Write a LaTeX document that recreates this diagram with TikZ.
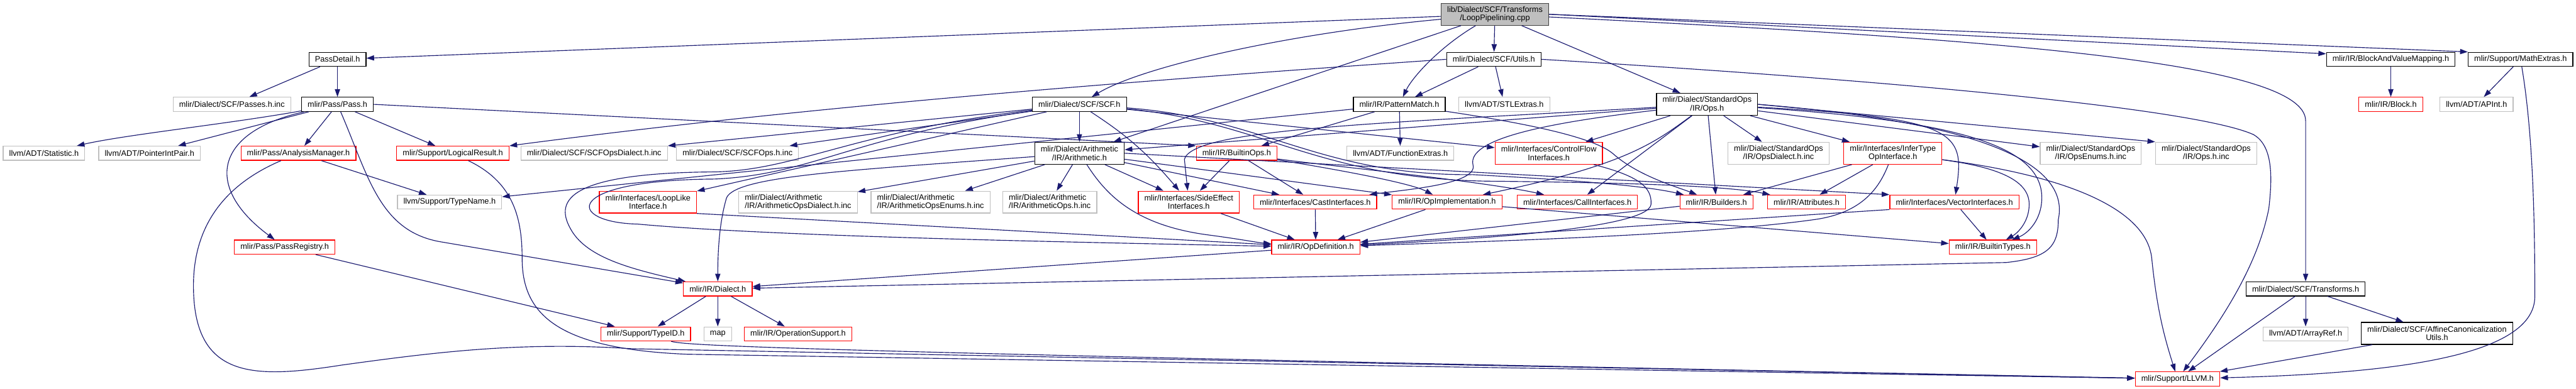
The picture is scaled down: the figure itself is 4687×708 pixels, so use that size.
\documentclass[tikz,border=0pt]{standalone}
\usepackage{fontspec}
\setmainfont{Liberation Sans}
\usetikzlibrary{arrows.meta}
\definecolor{edgeblue}{HTML}{191970}
\definecolor{extgray}{HTML}{BFBFBF}
\definecolor{rootline}{HTML}{404040}
\definecolor{truncred}{HTML}{FF0000}

\begin{document}
\begin{tikzpicture}[
  x=0.02cm, y=-0.02cm,
  box/.style={draw=black,line width=0.8pt,inner xsep=0.22cm,inner ysep=0.08cm,minimum height=0.514cm,align=center,font=\fontsize{8.3}{8.8}\selectfont},
  rootbox/.style={box,draw=rootline,fill=extgray},
  redbox/.style={box,draw=truncred},
  graybox/.style={box,draw=extgray},
  tall/.style={minimum height=0.8cm},
  arr/.style={-{Triangle[length=0.28cm,width=0.19cm]},line width=0.75pt,color=edgeblue}
]
\useasboundingbox (0,0) rectangle (4687,708);

\node[rootbox,tall] (root) at (2720,26) {lib/Dialect/SCF/Transforms\\/LoopPipelining.cpp};
\node[box] (passdetail) at (614,108) {PassDetail.h};
\node[graybox] (passes) at (422,190) {mlir/Dialect/SCF/Passes.h.inc};
\node[box] (pass) at (614,190) {mlir/Pass/Pass.h};
\node[graybox] (statistic) at (80,279) {llvm/ADT/Statistic.h};
\node[graybox] (ptrpair) at (272,279) {llvm/ADT/PointerIntPair.h};
\node[redbox] (analysis) at (543,279) {mlir/Pass/AnalysisManager.h};
\node[redbox] (logical) at (824,279) {mlir/Support/LogicalResult.h};
\node[redbox] (passreg) at (518,450) {mlir/Pass/PassRegistry.h};
\node[graybox] (typename) at (818,368) {llvm/Support/TypeName.h};
\node[graybox] (scfdialinc) at (1081,279) {mlir/Dialect/SCF/SCFOpsDialect.h.inc};
\node[graybox] (scfopsinc) at (1342,279) {mlir/Dialect/SCF/SCFOps.h.inc};
\node[redbox,tall] (looplike) at (1179,368) {mlir/Interfaces/LoopLike\\Interface.h};
\node[graybox,tall,align=left] (aridialinc) at (1452,368) {mlir/Dialect/Arithmetic\\/IR/ArithmeticOpsDialect.h.inc};
\node[redbox] (dialect) at (1306,526) {mlir/IR/Dialect.h};
\node[redbox] (typeid) at (1175,608) {mlir/Support/TypeID.h};
\node[graybox] (stdmap) at (1306,608) {map};
\node[redbox] (opsupport) at (1452,608) {mlir/IR/OperationSupport.h};
\node[box] (scf) at (1964,190) {mlir/Dialect/SCF/SCF.h};
\node[box,tall] (arith) at (1964,279) {mlir/Dialect/Arithmetic\\/IR/Arithmetic.h};
\node[redbox] (builtinops) at (2250,279) {mlir/IR/BuiltinOps.h};
\node[graybox,tall,align=left] (arienuminc) at (1693,368) {mlir/Dialect/Arithmetic\\/IR/ArithmeticOpsEnums.h.inc};
\node[graybox,tall,align=left] (ariopsinc) at (1910,368) {mlir/Dialect/Arithmetic\\/IR/ArithmeticOps.h.inc};
\node[redbox,tall] (sideeffect) at (2163,368) {mlir/Interfaces/SideEffect\\Interfaces.h};
\node[redbox] (castif) at (2393,368) {mlir/Interfaces/CastInterfaces.h};
\node[redbox] (opdef) at (2394,450) {mlir/IR/OpDefinition.h};
\node[redbox] (opimpl) at (2633,368) {mlir/IR/OpImplementation.h};
\node[redbox] (callif) at (2870,368) {mlir/Interfaces/CallInterfaces.h};
\node[redbox] (builders) at (3123,368) {mlir/IR/Builders.h};
\node[box] (utils) at (2718,108) {mlir/Dialect/SCF/Utils.h};
\node[box] (pattern) at (2546,190) {mlir/IR/PatternMatch.h};
\node[graybox] (stlextras) at (2737,190) {llvm/ADT/STLExtras.h};
\node[box,tall] (stdops) at (3106,190) {mlir/Dialect/StandardOps\\/IR/Ops.h};
\node[graybox] (funcextras) at (2548,279) {llvm/ADT/FunctionExtras.h};
\node[redbox,tall] (ctrlflow) at (2818,279) {mlir/Interfaces/ControlFlow\\Interfaces.h};
\node[graybox,tall] (stddialinc) at (3236,279) {mlir/Dialect/StandardOps\\/IR/OpsDialect.h.inc};
\node[redbox,tall] (infertype) at (3444,279) {mlir/Interfaces/InferType\\OpInterface.h};
\node[graybox,tall] (stdenuminc) at (3804,279) {mlir/Dialect/StandardOps\\/IR/OpsEnums.h.inc};
\node[graybox,tall] (stdopsinc) at (4014,279) {mlir/Dialect/StandardOps\\/IR/Ops.h.inc};
\node[redbox] (attributes) at (3287,368) {mlir/IR/Attributes.h};
\node[redbox] (vectorif) at (3556,368) {mlir/Interfaces/VectorInterfaces.h};
\node[redbox] (builtintypes) at (3626,450) {mlir/IR/BuiltinTypes.h};
\node[redbox] (llvm) at (3962,690) {mlir/Support/LLVM.h};
\node[box] (bvm) at (4350,108) {mlir/IR/BlockAndValueMapping.h};
\node[box] (mathextras) at (4586,108) {mlir/Support/MathExtras.h};
\node[redbox] (block) at (4350,190) {mlir/IR/Block.h};
\node[graybox] (apint) at (4506,190) {llvm/ADT/APInt.h};
\node[box] (transforms) at (4195,526) {mlir/Dialect/SCF/Transforms.h};
\node[graybox] (arrayref) at (4195,608) {llvm/ADT/ArrayRef.h};
\node[box,tall] (affine) at (4434,607) {mlir/Dialect/SCF/AffineCanonicalization\\Utils.h};

\draw[arr] (root) -- (passdetail);
\draw[arr] (root) .. controls (2350,60) and (2080,120) .. (scf);
\draw[arr] (root) -- (utils);
\draw[arr] (root) .. controls (2620,85) and (2570,140) .. (pattern);
\draw[arr] (root) -- (stdops);
\draw[arr] (root) -- (arith);
\draw[arr] (root.east) -- ([yshift=-2pt]bvm.north west);
\draw[arr] (root.east) -- (mathextras.north west);
\draw[arr] (root) .. controls (3600,70) and (4195,110) .. (4195,220) -- (transforms);

\draw[arr] (passdetail) -- (passes);
\draw[arr] (passdetail) -- (pass);

\draw[arr] (pass) .. controls (420,225) and (230,245) .. (statistic);
\draw[arr] (pass) -- (ptrpair);
\draw[arr] (pass) -- (analysis);
\draw[arr] (pass) .. controls (390,240) and (370,340) .. (passreg);
\draw[arr] (pass) .. controls (670,320) and (690,420) .. (800,440) -- (dialect);
\draw[arr] (pass) -- (logical);
\draw[arr] (pass.east) -- (builtinops.north west);

\draw[arr] (analysis) -- (typename);
\draw[arr] (analysis) .. controls (400,340) and (352,420) .. (352,520) .. controls (352,690) and (460,690) .. (620,665) .. controls (800,640) and (950,622) .. (1150,635) -- (llvm);
\draw[arr] (passreg) -- (typeid);
\draw[arr] (logical) .. controls (930,330) and (950,390) .. (950,470) .. controls (950,570) and (1010,635) .. (1250,645) -- (llvm);
\draw[arr] (typeid) .. controls (1250,630) and (1450,640) .. (llvm);

\draw[arr] (dialect) -- (typeid);
\draw[arr] (dialect) -- (stdmap);
\draw[arr] (dialect) -- (opsupport);

\draw[arr] (utils) -- (pattern);
\draw[arr] (utils) -- (stlextras);
\draw[arr] (utils.west) .. controls (2100,145) and (1500,190) .. (logical);
\draw[arr] (utils.east) .. controls (3500,150) and (4000,200) .. (4100,245) .. controls (4135,265) and (4135,320) .. (4128,380) .. controls (4110,470) and (4060,560) .. (llvm);

\draw[arr] (pattern) -- (typename);
\draw[arr] (pattern) -- (builtinops);
\draw[arr] (pattern) -- (funcextras);
\draw[arr] (pattern) .. controls (2780,225) and (2900,250) .. (2935,280) .. controls (2980,320) and (3050,340) .. (builders);

\draw[arr] (scf) -- (scfdialinc);
\draw[arr] (scf) -- (scfopsinc);
\draw[arr] (scf) -- (looplike);
\draw[arr] (scf) .. controls (1550,240) and (1450,310) .. (1300,313) .. controls (1020,315) and (1010,370) .. (1040,420) .. controls (1070,470) and (1150,490) .. (dialect);
\draw[arr] (scf) .. controls (1550,248) and (1480,318) .. (1300,326) .. controls (1020,328) and (1030,405) .. (1160,408) .. controls (1400,430) and (1900,440) .. (opdef);
\draw[arr] (scf) -- (arith);
\draw[arr] (scf) .. controls (2040,240) and (2080,270) .. (sideeffect);
\draw[arr] (scf) -- (ctrlflow);
\draw[arr] (scf) .. controls (2300,215) and (2400,320) .. (2680,318) .. controls (2900,330) and (3000,340) .. (builders);
\draw[arr] (scf) .. controls (2300,222) and (2400,328) .. (2720,330) .. controls (3000,333) and (3150,340) .. (attributes);

\draw[arr] (builtinops) -- (sideeffect);
\draw[arr] (builtinops) -- (castif);
\draw[arr] (builtinops) .. controls (2400,300) and (2700,330) .. (callif);
\draw[arr] (builtinops) .. controls (2380,300) and (2560,330) .. (opimpl);

\draw[arr] (arith) .. controls (1550,310) and (1340,320) .. (1322,360) .. controls (1310,400) and (1306,450) .. (dialect);
\draw[arr] (arith) -- (aridialinc);
\draw[arr] (arith) -- (arienuminc);
\draw[arr] (arith) -- (ariopsinc);
\draw[arr] (arith) .. controls (2010,350) and (2060,410) .. (2200,428) .. controls (2260,436) and (2290,442) .. (opdef);
\draw[arr] (arith) -- (sideeffect);
\draw[arr] (arith) -- (castif);
\draw[arr] (arith) -- (opimpl);
\draw[arr] (arith.east) -- (vectorif.north west);

\draw[arr] (opdef) -- (dialect);
\draw[arr] (castif) -- (opdef);
\draw[arr] (sideeffect) -- (opdef);
\draw[arr] (looplike.south east) -- (opdef);
\draw[arr] (opimpl) -- (opdef);
\draw[arr] (opimpl) -- (builtintypes);
\draw[arr] (builders) -- (opdef);
\draw[arr] (ctrlflow) .. controls (2980,320) and (3006,340) .. (3004,372) .. controls (3000,415) and (2700,435) .. (opdef);
\draw[arr] (vectorif) -- (builtintypes);
\draw[arr] (vectorif.south west) -- (opdef);

\draw[arr] (infertype) -- (builders);
\draw[arr] (infertype) -- (attributes);
\draw[arr] (infertype) .. controls (3420,340) and (3390,388) .. (3300,400) .. controls (3100,428) and (2700,440) .. (opdef);
\draw[arr] (infertype) .. controls (3640,305) and (3692,330) .. (3692,372) .. controls (3692,405) and (3670,425) .. (builtintypes);
\draw[arr] (infertype) .. controls (3760,320) and (3905,380) .. (3915,470) .. controls (3925,570) and (3940,620) .. (llvm);

\draw[arr] (stdops) -- (arith);
\draw[arr] (stdops) .. controls (2500,225) and (2170,235) .. (2155,290) -- (sideeffect);
\draw[arr] (stdops) -- (ctrlflow);
\draw[arr] (stdops) .. controls (2800,225) and (2670,255) .. (2680,300) .. controls (2690,335) and (2560,345) .. (castif);
\draw[arr] (stdops) .. controls (3010,260) and (2960,300) .. (opimpl);
\draw[arr] (stdops) -- (callif);
\draw[arr] (stdops) -- (builders);
\draw[arr] (stdops) -- (stddialinc);
\draw[arr] (stdops) -- (infertype);
\draw[arr] (stdops) -- (stdenuminc);
\draw[arr] (stdops.east) -- (stdopsinc.north west);
\draw[arr] (stdops) .. controls (3560,215) and (3575,240) .. (vectorif);
\draw[arr] (stdops) .. controls (3560,220) and (3715,265) .. (3715,360) .. controls (3715,400) and (3690,425) .. (builtintypes);
\draw[arr] (stdops.east) .. controls (3700,230) and (3760,330) .. (3745,400) .. controls (3745,450) and (3725,470) .. (3650,478) -- (dialect);

\draw[arr] (transforms) -- (llvm);
\draw[arr] (transforms) -- (arrayref);
\draw[arr] (transforms) -- (affine);
\draw[arr] (affine) -- (llvm);
\draw[arr] (mathextras) -- (apint);
\draw[arr] (mathextras) .. controls (4610,250) and (4612,420) .. (4612,540) .. controls (4612,650) and (4350,680) .. (llvm);
\draw[arr] (bvm) -- (block);
\end{tikzpicture}
\end{document}
